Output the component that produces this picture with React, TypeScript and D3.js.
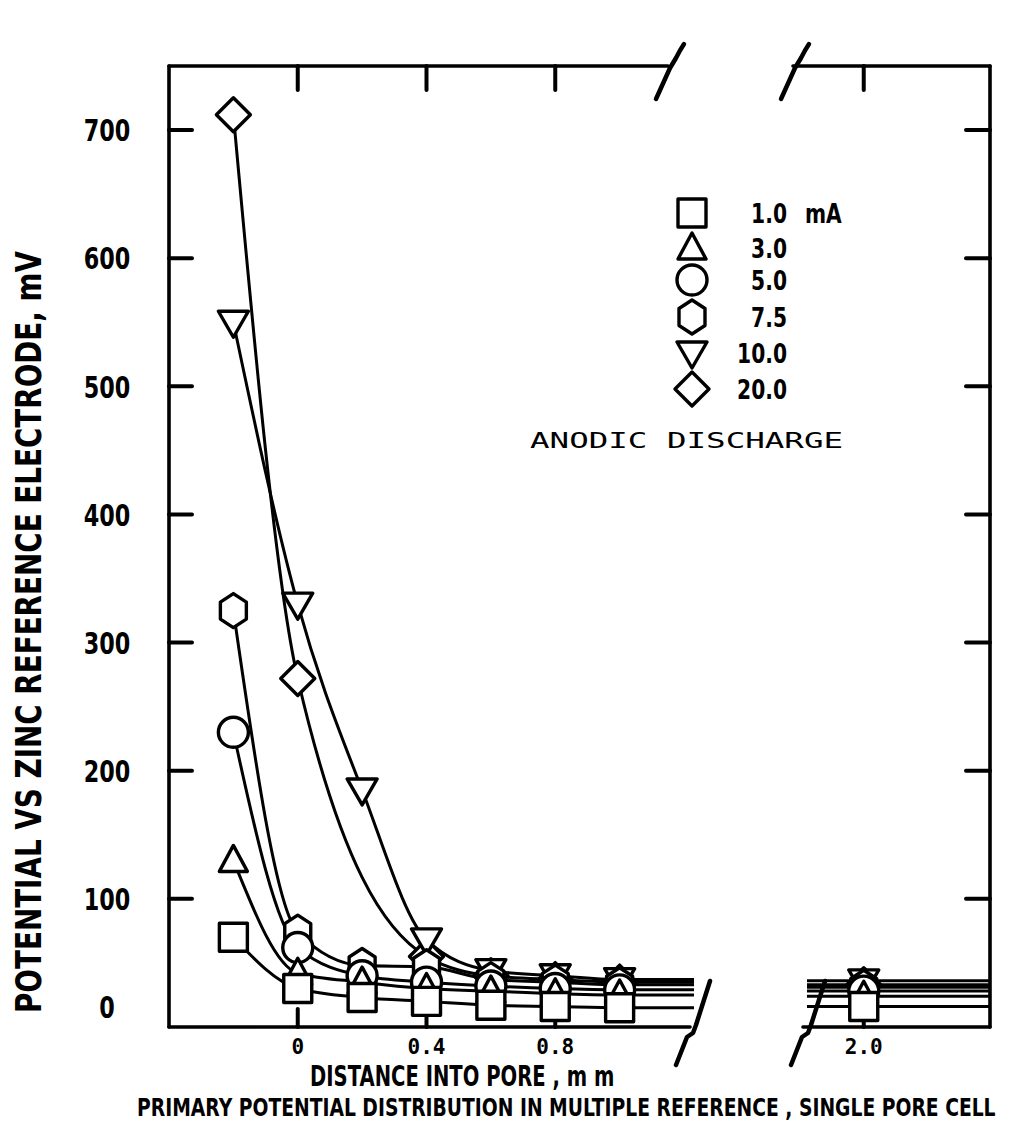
import React from "react";
import * as d3 from "d3";

// ---------- data ----------
const X_VALUES = [-0.2, 0, 0.2, 0.4, 0.6, 0.8, 1.0, 2.0];
const CURRENT_LABELS = ["1.0", "3.0", "5.0", "7.5", "10.0", "20.0"];
const SHAPES = ["square", "triangle", "circle", "hexagon", "downTriangle", "diamond"];
const SQUARE_MV = [70, 30, 23, 20, 17, 16, 15, 16];
const TRIANGLE_MV = [130, 42, 35, 30, 28, 26, 25, 24];
const CIRCLE_MV = [230, 62, 40, 35, 32, 30, 29, 28];
const HEXAGON_MV = [325, 74, 48, 47, 37, 35, 33, 31];
const DOWN_TRIANGLE_MV = [550, 330, 185, 68, 44, 40, 37, 36];
const DIAMOND_MV: (number | null)[] = [712, 272, null, 55, 40, 37, 35, 33];
const SERIES = [SQUARE_MV, TRIANGLE_MV, CIRCLE_MV, HEXAGON_MV, DOWN_TRIANGLE_MV, DIAMOND_MV];

const Y_TICKS = [100, 200, 300, 400, 500, 600, 700];
const Y_LABELS = [0, 100, 200, 300, 400, 500, 600, 700];
const X_TICKS_MAIN = [0, 0.4, 0.8];
const X_TICKS_FAR = [2.0];

const Y_TITLE = "POTENTIAL VS ZINC REFERENCE ELECTRODE,  mV";
const X_TITLE = "DISTANCE INTO PORE , m m";
const CAPTION = "PRIMARY POTENTIAL DISTRIBUTION IN MULTIPLE REFERENCE , SINGLE PORE CELL";
const NOTE = "ANODIC DISCHARGE";
const UNIT = "mA";

// ---------- layout ----------
const W = 1009, H = 1126;
const LEFT = 169, RIGHT = 990, TOP = 66, BOTTOM = 1027;
const MAIN_DOMAIN: [number, number] = [-0.4, 1.2];
const FAR_DOMAIN: [number, number] = [1.8, 2.39];
const BREAK1 = 684, BREAK2 = 799;

const xMain = d3.scaleLinear().domain(MAIN_DOMAIN).range([LEFT, BREAK1]);
const xFar = d3.scaleLinear().domain(FAR_DOMAIN).range([BREAK2, RIGHT]);
const y = d3.scaleLinear().domain([0, 750]).range([BOTTOM, TOP]);

const BOLD = "'DejaVu Sans', 'Liberation Sans', sans-serif";
const MONO = "'DejaVu Sans Mono', 'Liberation Mono', monospace";
const SW = 3.4;

function markerPath(shape: string): string {
  switch (shape) {
    case "square": {
      const s = 14;
      return `M${-s},${-s}H${s}V${s}H${-s}Z`;
    }
    case "triangle":
      return `M0,-15L14,11L-14,11Z`;
    case "downTriangle":
      return `M-15,-11L15,-11L0,15Z`;
    case "circle": {
      const r = 15;
      return `M${r},0A${r},${r} 0 1,1 ${-r},0A${r},${r} 0 1,1 ${r},0Z`;
    }
    case "hexagon": {
      const pts = d3.range(6).map((i) => {
        const a = (Math.PI / 3) * i - Math.PI / 2;
        return [15 * Math.cos(a), 17 * Math.sin(a)];
      });
      return "M" + pts.map((p) => p.join(",")).join("L") + "Z";
    }
    case "diamond":
      return `M0,-17L17,0L0,17L-17,0Z`;
  }
  return "";
}

function breakPath(bx: number, by: number, top: boolean): string {
  if (top) {
    return `M${bx - 12},${by + 33} L${bx + 2},${by + 2} L${bx + 8},${by - 8} Q${bx + 12},${by - 16} ${bx + 16},${by - 22}`;
  }
  return `M${bx - 14},${by + 38} L${bx - 3},${by + 10} L${bx + 3},${by + 6} L${bx + 6},${by - 2} L${bx + 20},${by - 46}`;
}

function Narrow(props: {
  x: number; y: number; size: number; sx: number; anchor?: string; children: React.ReactNode;
}) {
  return (
    <text
      transform={`translate(${props.x},${props.y}) scale(${props.sx},1)`}
      textAnchor={props.anchor || "start"}
      dy="0.36em"
      fontFamily={BOLD}
      fontWeight="bold"
      fontSize={props.size}
    >
      {props.children}
    </text>
  );
}

export default function App() {
  const lineGen = d3
    .line<[number, number]>()
    .x((d) => d[0])
    .y((d) => d[1])
    .curve(d3.curveMonotoneX);

  const mainLines = SERIES.map((vals) => {
    const pts: [number, number][] = [];
    X_VALUES.forEach((xv, i) => {
      const v = vals[i];
      if (v !== null && xv <= MAIN_DOMAIN[1]) pts.push([xMain(xv), y(v)]);
    });
    const lastIdx = X_VALUES.findIndex((xv) => xv > MAIN_DOMAIN[1]) - 1;
    const lastV = vals[lastIdx] as number;
    pts.push([xMain(MAIN_DOMAIN[1]) + 10, y(lastV)]);
    return lineGen(pts) as string;
  });

  const farLines = SERIES.map((vals) => {
    const v = vals[X_VALUES.length - 1] as number;
    return `M${xFar(FAR_DOMAIN[0]) + 8},${y(v)}H${RIGHT}`;
  });

  const markers: { x: number; y: number; shape: string }[] = [];
  SERIES.forEach((vals, si) => {
    X_VALUES.forEach((xv, i) => {
      const v = vals[i];
      if (v === null) return;
      const px = xv <= MAIN_DOMAIN[1] ? xMain(xv) : xFar(xv);
      markers.push({ x: px, y: y(v), shape: SHAPES[si] });
    });
  });
  const ordered = [...markers].reverse();

  const legendRows = [213, 248, 280, 317, 353, 389];

  return (
    <svg
      width={W}
      height={H}
      style={{ position: "absolute", left: 0, top: 0, background: "#fff" }}
    >
      <rect x={0} y={0} width={W} height={H} fill="#fff" />
      {/* frame */}
      <g stroke="#000" strokeWidth={3.6} fill="none" strokeLinecap="round">
        <line x1={LEFT} y1={TOP} x2={LEFT} y2={BOTTOM} />
        <line x1={RIGHT} y1={TOP} x2={RIGHT} y2={BOTTOM} />
        <line x1={LEFT} y1={TOP} x2={xMain(MAIN_DOMAIN[1]) - 16} y2={TOP} />
        <line x1={xFar(FAR_DOMAIN[0]) - 6} y1={TOP} x2={RIGHT} y2={TOP} />
        <line x1={LEFT} y1={BOTTOM} x2={xMain(MAIN_DOMAIN[1]) + 6} y2={BOTTOM} />
        <line x1={xFar(FAR_DOMAIN[0]) + 4} y1={BOTTOM} x2={RIGHT} y2={BOTTOM} />
      </g>
      {/* breaks */}
      <g stroke="#000" strokeWidth={4.5} fill="none" strokeLinecap="round" strokeLinejoin="round">
        <path d={breakPath(xMain(MAIN_DOMAIN[1]) - 16, TOP, true)} />
        <path d={breakPath(xFar(FAR_DOMAIN[0]) - 6, TOP, true)} />
        <path d={breakPath(xMain(MAIN_DOMAIN[1]) + 6, BOTTOM, false)} />
        <path d={breakPath(xFar(FAR_DOMAIN[0]) + 6, BOTTOM, false)} />
      </g>
      {/* ticks */}
      <g stroke="#000" strokeWidth={4} strokeLinecap="round">
        {Y_TICKS.map((t) => (
          <line key={"l" + t} x1={LEFT} x2={LEFT + 23} y1={y(t)} y2={y(t)} />
        ))}
        {Y_TICKS.map((t) => (
          <line key={"r" + t} x1={RIGHT} x2={RIGHT - 24} y1={y(t)} y2={y(t)} />
        ))}
        {X_TICKS_MAIN.map((t) => (
          <line key={"t" + t} x1={xMain(t)} x2={xMain(t)} y1={TOP} y2={TOP + 24} />
        ))}
        {X_TICKS_FAR.map((t) => (
          <line key={"tf" + t} x1={xFar(t)} x2={xFar(t)} y1={TOP} y2={TOP + 24} />
        ))}
        {X_TICKS_MAIN.map((t) => (
          <line key={"b" + t} x1={xMain(t)} x2={xMain(t)} y1={BOTTOM} y2={BOTTOM - 18} />
        ))}
        {X_TICKS_FAR.map((t) => (
          <line key={"bf" + t} x1={xFar(t)} x2={xFar(t)} y1={BOTTOM} y2={BOTTOM - 18} />
        ))}
      </g>
      {/* y labels */}
      {Y_LABELS.map((t) => (
        <Narrow key={t} x={107} y={y(t) + (t === 0 ? -20 : 0)} size={31} sx={0.72} anchor="middle">
          {t}
        </Narrow>
      ))}
      {/* x labels */}
      <g fontFamily={MONO} fontWeight="bold" fontSize={21} textAnchor="middle">
        {X_TICKS_MAIN.map((t) => (
          <text key={t} x={xMain(t)} y={1046} dy="0.36em">
            {d3.format("")(t)}
          </text>
        ))}
        {X_TICKS_FAR.map((t) => (
          <text key={t} x={xFar(t)} y={1046} dy="0.36em">
            {d3.format(".1f")(t)}
          </text>
        ))}
      </g>
      {/* y title */}
      <text
        transform={`translate(28,632) rotate(-90)`}
        textAnchor="middle"
        dy="0.36em"
        fontFamily={BOLD}
        fontWeight="bold"
        fontSize={36}
        textLength={762}
        lengthAdjust="spacingAndGlyphs"
      >
        {Y_TITLE}
      </text>
      {/* x title */}
      <Narrow x={310} y={1076} size={28} sx={0.70}>
        {X_TITLE}
      </Narrow>
      <Narrow x={137} y={1107} size={25} sx={0.75}>
        {CAPTION}
      </Narrow>
      {/* note */}
      <text
        x={530}
        y={440}
        dy="0.36em"
        fontFamily={MONO}
        fontSize={22}
        textLength={313}
        lengthAdjust="spacingAndGlyphs"
      >
        {NOTE}
      </text>
      {/* curves */}
      <g stroke="#000" strokeWidth={3} fill="none">
        {mainLines.map((d, i) => (
          <path key={"m" + i} d={d} />
        ))}
        {farLines.map((d, i) => (
          <path key={"f" + i} d={d} />
        ))}
      </g>
      {/* markers */}
      <g stroke="#000" strokeWidth={SW} fill="#fff" strokeLinejoin="round">
        {ordered.map((m, i) => (
          <path key={i} d={markerPath(m.shape)} transform={`translate(${m.x},${m.y})`} />
        ))}
      </g>
      {/* legend */}
      <g>
        {CURRENT_LABELS.map((lab, i) => (
          <g key={lab}>
            <path
              d={markerPath(SHAPES[i])}
              transform={`translate(692,${legendRows[i]})`}
              stroke="#000"
              strokeWidth={SW}
              fill="#fff"
              strokeLinejoin="round"
            />
            <Narrow x={787} y={legendRows[i]} size={27} sx={0.75} anchor="end">
              {lab}
            </Narrow>
          </g>
        ))}
        <Narrow x={805} y={legendRows[0]} size={27} sx={0.75}>
          {UNIT}
        </Narrow>
      </g>
    </svg>
  );
}
